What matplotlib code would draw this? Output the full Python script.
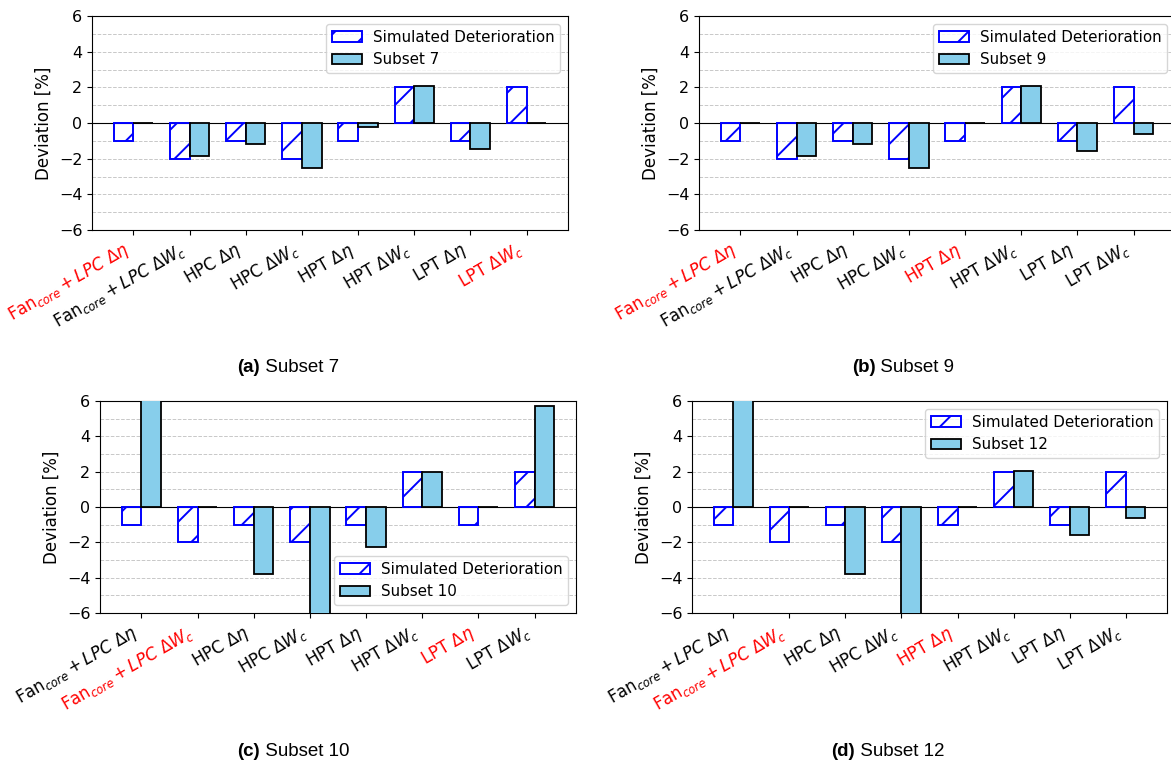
import matplotlib
matplotlib.use("Agg")
import matplotlib.pyplot as plt
from matplotlib.ticker import MultipleLocator
import numpy as np

# Health parameter labels
categories = [
    r"Fan$_{core} + LPC\ \Delta\eta$",
    r"Fan$_{core} + LPC\ \Delta W_c$",
    r"HPC $\Delta\eta$",
    r"HPC $\Delta W_c$",
    r"HPT $\Delta\eta$",
    r"HPT $\Delta W_c$",
    r"LPT $\Delta\eta$",
    r"LPT $\Delta W_c$",
]

# Imposed deterioration (identical for every subset)
simulated = [-1, -2, -1, -2, -1, 2, -1, 2]

# Estimated deviations per subset
subset_7 = [0.0, -1.85, -1.2, -2.55, -0.2, 2.05, -1.45, 0.0]
subset_9 = [0.0, -1.85, -1.2, -2.55, 0.0, 2.05, -1.55, -0.6]
subset_10 = [6.5, 0.0, -3.8, -6.5, -2.25, 2.0, 0.0, 5.7]
subset_12 = [6.5, 0.0, -3.8, -6.5, 0.0, 2.05, -1.6, -0.6]

# Parameters excluded from each subset (shown in red)
excluded_7 = [0, 7]
excluded_9 = [0, 4]
excluded_10 = [1, 6]
excluded_12 = [1, 4]

W, H = 1171, 763
plt.rcParams["font.size"] = 11.5
plt.rcParams["hatch.linewidth"] = 1.4
fig = plt.figure(figsize=(W / 100, H / 100), dpi=100)


def px_axes(left, top, right, bottom):
    return fig.add_axes([left / W, 1 - bottom / H, (right - left) / W, (bottom - top) / H])


def draw_panel(ax, values, name, excluded, legend_loc):
    x = np.arange(len(categories))
    width = 0.35
    ax.bar(x - width / 2, simulated, width, facecolor="none", edgecolor="blue",
           hatch="/", linewidth=1.4, label="Simulated Deterioration", zorder=3)
    ax.bar(x + width / 2, values, width, color="skyblue", edgecolor="black",
           linewidth=1.3, label=name, zorder=3)
    ax.axhline(0, color="black", linewidth=0.8, zorder=2)
    ax.set_ylim(-6, 6)
    ax.yaxis.set_major_locator(MultipleLocator(2))
    ax.yaxis.set_minor_locator(MultipleLocator(1))
    ax.tick_params(axis="y", which="minor", length=0)
    ax.grid(axis="y", which="both", linestyle="--", color="#c8c8c8", linewidth=0.7, zorder=0)
    ax.set_axisbelow(True)
    ax.set_ylabel("Deviation [%]", fontsize=12)
    ax.set_xticks(x)
    ax.set_xticklabels(categories, rotation=30, ha="right", fontsize=12)
    for i, lbl in enumerate(ax.get_xticklabels()):
        if i in excluded:
            lbl.set_color("red")
    ax.legend(loc=legend_loc, fontsize=10.9, handletextpad=0.7)


ax_a = px_axes(92, 16, 568, 230)
ax_b = px_axes(699, 16, 1175, 230)
ax_c = px_axes(100, 401, 576, 613)
ax_d = px_axes(692, 401, 1167, 613)

draw_panel(ax_a, subset_7, "Subset 7", excluded_7, "upper right")
draw_panel(ax_b, subset_9, "Subset 9", excluded_9, "upper right")
draw_panel(ax_c, subset_10, "Subset 10", excluded_10, "lower right")
draw_panel(ax_d, subset_12, "Subset 12", excluded_12, "upper right")

captions = [("(a)", " Subset 7", 288, 368), ("(b)", " Subset 9", 903, 368),
            ("(c)", " Subset 10", 293, 752), ("(d)", " Subset 12", 888, 752)]

renderer = fig.canvas.get_renderer()
for tag, rest, cx, cy in captions:
    t1 = fig.text(0, 1 - cy / H, tag, fontsize=13.5, fontweight="bold",
                  family="Liberation Sans", va="center")
    t2 = fig.text(0, 1 - cy / H, rest, fontsize=13.5, family="Liberation Sans", va="center")
    w1 = t1.get_window_extent(renderer).width
    w2 = t2.get_window_extent(renderer).width
    x0 = cx - (w1 + w2) / 2
    t1.set_x(x0 / W)
    t2.set_x((x0 + w1) / W)

fig.savefig("out.png", dpi=100)
